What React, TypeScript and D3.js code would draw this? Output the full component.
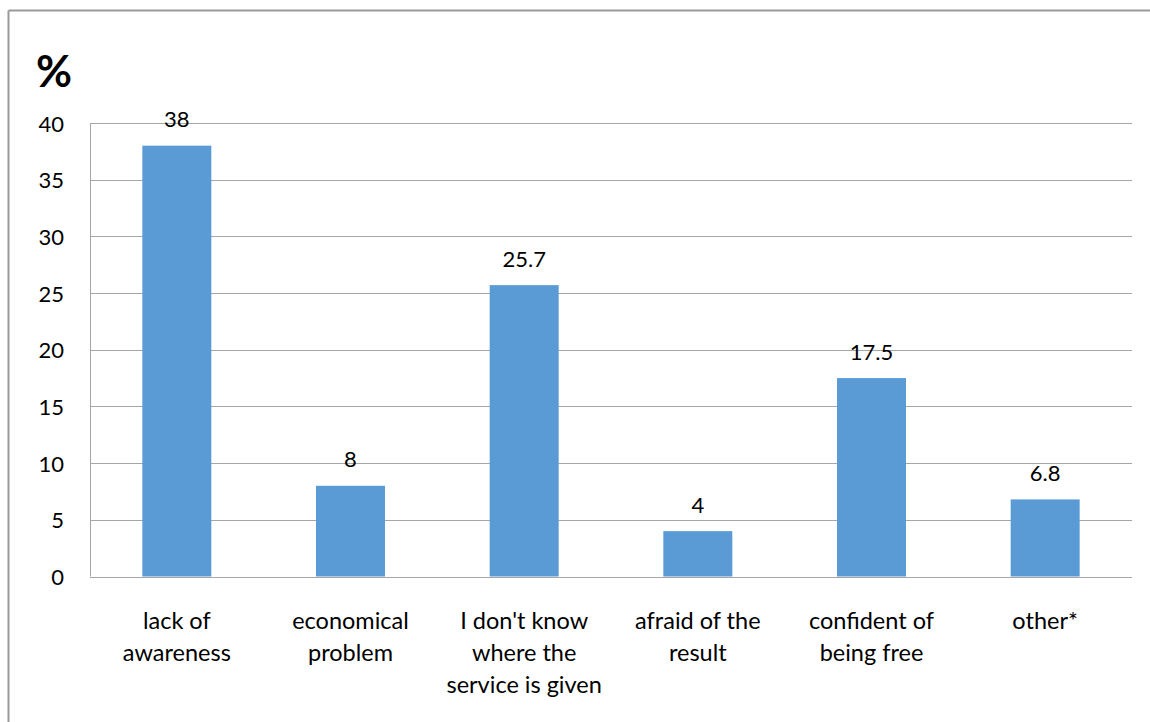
import React from "react";
import * as d3 from "d3";

const categories: string[][] = [
  ["lack of", "awareness"],
  ["economical", "problem"],
  ["I don't know", "where the", "service is given"],
  ["afraid of the", "result"],
  ["confident of", "being free"],
  ["other*"],
];
const values: number[] = [38, 8, 25.7, 4, 17.5, 6.8];
const valueLabels: string[] = ["38", "8", "25.7", "4", "17.5", "6.8"];
const yTicks: number[] = [0, 5, 10, 15, 20, 25, 30, 35, 40];

const W = 1150;
const H = 722;
const left = 90;
const right = 1132;
const top = 123;
const bottom = 576.5;
const font = "Lato, 'Open Sans', 'Liberation Sans', sans-serif";

export default function App() {
  const x = d3
    .scaleBand<number>()
    .domain(values.map((_, i) => i))
    .range([left, right])
    .paddingInner(0.6)
    .paddingOuter(0.3);
  const y = d3.scaleLinear().domain([0, 40]).range([bottom, top]);
  const step = (right - left) / values.length;

  return (
    <svg
      width={W}
      height={H}
      style={{ position: "absolute", left: 0, top: 0, background: "#fff" }}
    >
      <rect x={0} y={0} width={W} height={H} fill="#fff" />
      {/* outer border */}
      <line x1={8.5} y1={10.5} x2={8.5} y2={H} stroke="#9a9a9a" strokeWidth={2} />
      <line x1={8.5} y1={10.5} x2={W} y2={10.5} stroke="#9a9a9a" strokeWidth={2} />
      {/* gridlines */}
      {yTicks.map((t) => (
        <line
          key={t}
          x1={left}
          x2={right}
          y1={Math.round(y(t)) + 0.5}
          y2={Math.round(y(t)) + 0.5}
          stroke="#a6a6a6"
          strokeWidth={1}
        />
      ))}
      <line x1={left + 0.5} x2={left + 0.5} y1={top} y2={bottom} stroke="#a6a6a6" />
      {/* y tick labels */}
      {yTicks.map((t) => (
        <text
          key={"l" + t}
          x={64}
          y={y(t)}
          textAnchor="end"
          dominantBaseline="central"
          fontFamily={font}
          fontSize={22}
          fill="#000"
        >
          {t}
        </text>
      ))}
      <text x={36} y={87} fontFamily={font} fontSize={44} fontWeight="bold" fill="#000">
        %
      </text>
      {/* bars */}
      {values.map((v, i) => (
        <rect
          key={"b" + i}
          x={left + step * i + step / 2 - 34.5}
          y={y(v)}
          width={69}
          height={bottom - y(v)}
          fill="#5b9bd5"
        />
      ))}
      {/* value labels */}
      {values.map((v, i) => (
        <text
          key={"v" + i}
          x={left + step * i + step / 2}
          y={y(v) - 27}
          textAnchor="middle"
          dominantBaseline="central"
          fontFamily={font}
          fontSize={22}
          fill="#000"
        >
          {valueLabels[i]}
        </text>
      ))}
      {/* category labels */}
      {categories.map((lines, i) => (
        <g key={"c" + i}>
          {lines.map((ln, j) => (
            <text
              key={j}
              x={(x(i) as number) + x.bandwidth() / 2}
              y={620 + j * 32}
              textAnchor="middle"
              dominantBaseline="central"
              fontFamily={font}
              fontSize={23.5}
              fill="#000"
            >
              {ln}
            </text>
          ))}
        </g>
      ))}
    </svg>
  );
}
